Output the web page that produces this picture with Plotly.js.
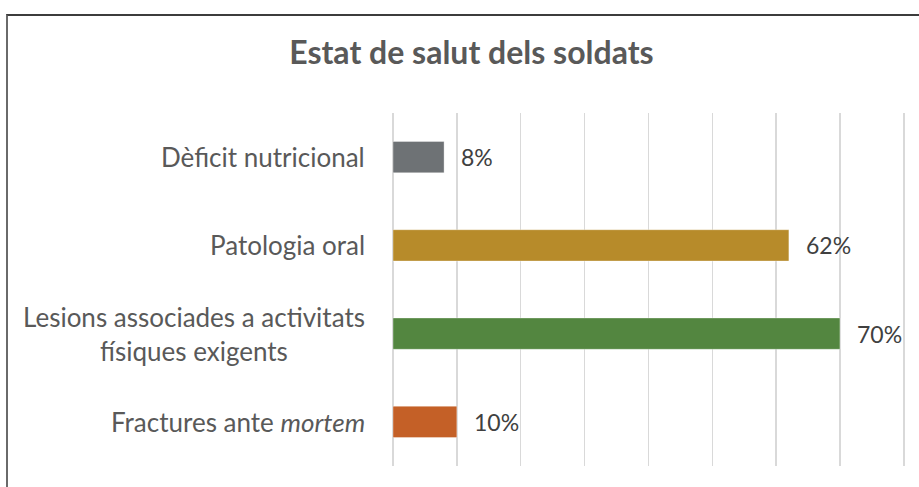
<!DOCTYPE html>
<html>
<head>
<meta charset="utf-8">
<script src="https://cdn.plot.ly/plotly-3.0.1.min.js"></script>
<style>
  html, body { margin: 0; padding: 0; background: #fff; }
  #wrap { position: relative; width: 919px; height: 487px; overflow: hidden; }
  #chart { position: absolute; left: 0; top: 0; width: 919px; height: 487px; }
  #frame { position: absolute; left: 6px; top: 14px; width: 913px; height: 480px;
           border-top: 2px solid #3c3c3c; border-left: 2px solid #6a6a6a; pointer-events: none; }
</style>
</head>
<body>
<div id="wrap">
  <div id="chart"></div>
  <div id="frame"></div>
</div>
<script>
// Data
const categories = [
  "Dèficit nutricional",
  "Patologia oral",
  "Lesions associades a activitats<br>físiques exigents",
  "Fractures ante <i>mortem</i>"
];
const values = [8, 62, 70, 10];
const valueLabels = ["8%", "62%", "70%", "10%"];
const barColors = ["#6e7275", "#b78b2a", "#538640", "#c46027"];
const chartTitle = "Estat de salut dels soldats";

const FONT = "Lato, 'Open Sans', sans-serif";

const trace = {
  type: "bar",
  orientation: "h",
  y: categories,
  x: values,
  width: 0.355,
  marker: { color: barColors, line: { color: "rgba(255,255,255,0.35)", width: 1 } },
  hoverinfo: "skip"
};

const annotations = [];
categories.forEach((c, i) => {
  annotations.push({
    xref: "paper", yref: "y", x: 0, y: c, xanchor: "right", yanchor: "middle",
    xshift: -26, align: "center", showarrow: false, text: c,
    font: { family: FONT, size: 26, color: "#595959" }
  });
  annotations.push({
    xref: "x", yref: "y", x: values[i], y: c, xanchor: "left", yanchor: "middle",
    xshift: 15, showarrow: false, text: valueLabels[i],
    font: { family: FONT, size: 23, color: "#404040" }
  });
});

const layout = {
  width: 919, height: 487,
  margin: { l: 393, r: 12, t: 113, b: 21, pad: 0 },
  paper_bgcolor: "#ffffff", plot_bgcolor: "#ffffff",
  showlegend: false,
  title: {
    text: "<b>" + chartTitle + "</b>",
    xref: "container", x: 0.513, xanchor: "center",
    yref: "container", y: 0.892, yanchor: "middle",
    font: { family: FONT, size: 32, color: "#595959" }
  },
  xaxis: {
    range: [0, 80.5], dtick: 10, tick0: 0,
    showticklabels: false, ticks: "",
    showgrid: true, gridcolor: "#d9d9d9", gridwidth: 1.5,
    zeroline: true, zerolinecolor: "#d9d9d9", zerolinewidth: 1.5,
    showline: false, fixedrange: true
  },
  yaxis: {
    type: "category", autorange: "reversed",
    showticklabels: false, ticks: "", showgrid: false, zeroline: false,
    showline: false, fixedrange: true
  },
  annotations: annotations
};

Plotly.newPlot("chart", [trace], layout, { displayModeBar: false, staticPlot: true });
</script>
</body>
</html>
